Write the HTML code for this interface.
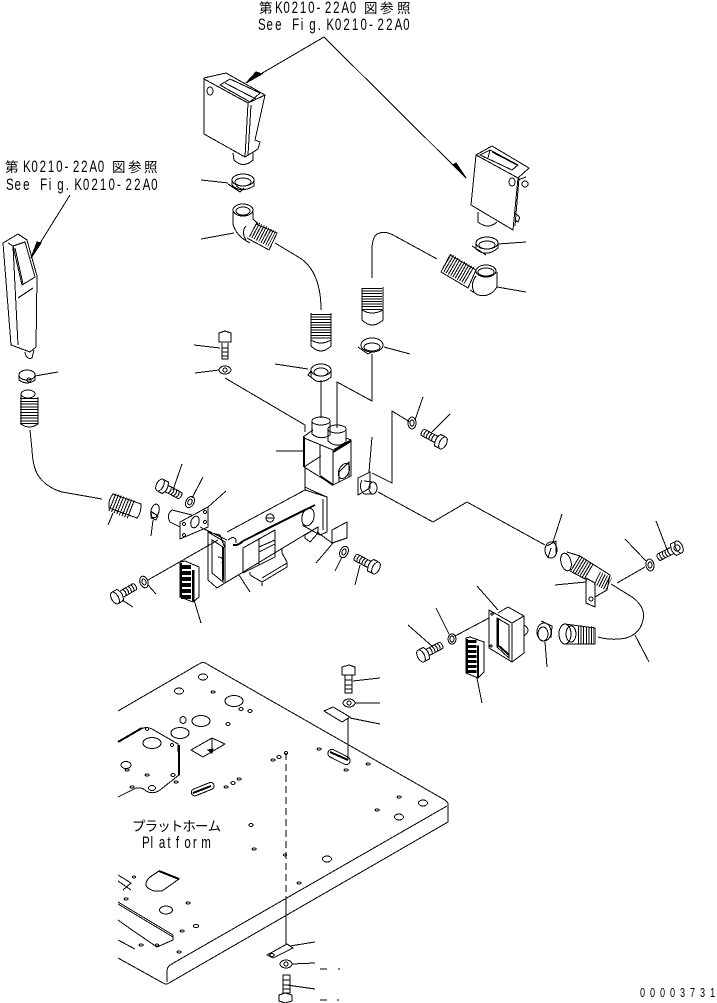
<!DOCTYPE html>
<html><head><meta charset="utf-8"><title>Diagram</title>
<style>
html,body{margin:0;padding:0;background:#fff;width:717px;height:1003px;overflow:hidden}
svg{display:block}
.t{font-family:"Liberation Sans","Noto Sans CJK JP",sans-serif;font-size:16.500px;fill:#000;stroke:none}
.j{font-family:"Liberation Sans","Noto Sans CJK JP",sans-serif;font-size:13.500px;fill:#000;stroke:none}
</style></head><body>
<svg width="717" height="1003" viewBox="0 0 717 1003" xmlns="http://www.w3.org/2000/svg">
<defs>
<g id="b"><ellipse cx="0" cy="0" rx="3.500" ry="6.500"/><path d="M0,-6.500H6Q8,-3 8,0Q8,3 6,6.500H0M8,-3.500H23M8,3.500H23M23,-3.500Q25,0 23,3.500M11,-3.500Q13,0 11,3.500M14,-3.500Q16,0 14,3.500M17,-3.500Q19,0 17,3.500M20,-3.500Q22,0 20,3.500"/></g>
</defs>
<rect width="717" height="1003" fill="#fff"/>
<text class="j" x="259" y="13">第</text><text class="t" transform="translate(275,13) scale(.7,1)" x="0 11.9 23.7 35.6 47.4 59.3 71.2 83 94.9 106.7">K0210-22A0</text><text class="j" x="364" y="13">図</text><text class="j" x="380" y="13">参</text><text class="j" x="397" y="13">照</text>
<text class="t" transform="translate(258,30) scale(.7,1)" x="0 12.2 24.4 36.6 48.8 61 73.2 85.4 97.6 109.8 122 134.2 146.4 158.6 170.8 183 195.2 207.4">See Fig.K0210-22A0</text>
<text class="j" x="5" y="172">第</text><text class="t" transform="translate(23,172) scale(.7,1)" x="0 11.9 23.7 35.6 47.4 59.3 71.2 83 94.9 106.7">K0210-22A0</text><text class="j" x="112" y="172">図</text><text class="j" x="128" y="172">参</text><text class="j" x="144" y="172">照</text>
<text class="t" transform="translate(6,190) scale(.7,1)" x="0 12.2 24.4 36.6 48.8 61 73.2 85.4 97.6 109.8 122 134.2 146.4 158.6 170.8 183 195.2 207.4">See Fig.K0210-22A0</text>
<text class="j" x="132 144.600 157.200 169.800 182.400 195 207.600" y="831">プラットホーム</text>
<text class="t" transform="translate(142,848) scale(.7,1)" x="0 12.1 24.2 36.3 48.4 60.5 72.6 84.7">Platform</text>
<text class="t" transform="translate(640,997) scale(.7,1)" style="font-size:13px" x="0 14.3 28.6 42.9 57.2 71.5 85.8 100.1">00003731</text>

<g fill="none" stroke="#000" stroke-width="1" shape-rendering="crispEdges">
<!-- leaders top -->
<path d="M324,37L247,82M324,37L466,178M70,195L32,256"/>
<path fill="#000" d="M262,74L246,83L256,72ZM453,165L466,178L456,163ZM41,243L31,258L37,242Z"/>

<!-- box 1 -->
<path d="M204,78L226,73L265,95L255,140L260,142L258,149L245,157L204,134ZM204,79L248,103L265,95M248,103L245,157M251,105L248,155M220,85L230,79L260,93L250,102ZM225,83L256,99"/>
<ellipse cx="210" cy="91" rx="3" ry="4"/>
<path d="M233,153L234,160Q243,169 253,160V152"/>
<!-- clamp 1 -->
<path d="M201,180L228,183"/>
<ellipse cx="243" cy="180" rx="11" ry="6"/>
<ellipse cx="243" cy="182" rx="8" ry="4"/>
<path d="M232,181V185Q240,194 254,186V180M228,184L240,192L244,188M236,186L243,190"/>
<!-- elbow 1 -->
<ellipse cx="243" cy="210" rx="10" ry="6"/>
<ellipse cx="243" cy="211" rx="7" ry="4"/>
<path d="M233,212V224Q236,236 250,243M253,212V219L258,224M246,226Q241,232 246,240"/>
<path d="M201,239L234,233M275,243L300,258Q321,272 321,310"/>
<line x1="253" y1="229" x2="272" y2="239" stroke-width="17" stroke-dasharray="1 1.6"/>
<path d="M256,224L277,233L269,250L247,238"/>
<!-- lower ripple 1 -->
<line x1="321" y1="314" x2="321" y2="340" stroke-width="20" stroke-dasharray="1 1.6"/>
<path d="M311,313V346Q321,356 331,346V313M311,340Q321,346 331,340"/>
<!-- box 2 -->
<path d="M476,155L492,146L529,168L518,178L513,230L471,205ZM476,155L518,178M480,155L490,150L518,165L512,170ZM490,150L488,158M492,152L517,165M519,178L515,226"/>
<ellipse cx="512" cy="182" rx="3" ry="4"/>
<ellipse cx="525" cy="184" rx="3" ry="3"/>
<path d="M518,180L526,177M478,212V222Q488,230 497,222M515,214Q522,216 518,222L515,220"/>
<!-- clamp 2 -->
<path d="M498,244L526,242"/>
<ellipse cx="487" cy="243" rx="11" ry="6"/>
<ellipse cx="487" cy="245" rx="8" ry="4"/>
<path d="M476,244V249Q486,258 498,248V243M472,246L486,255"/>
<!-- elbow 2 -->
<ellipse cx="486" cy="271" rx="10" ry="6"/>
<ellipse cx="486" cy="272" rx="8" ry="4"/>
<path d="M497,272V287Q490,298 478,295L470,290M476,276Q470,284 474,292M497,287L526,292M437,259L395,236Q385,230 377,234Q372,238 372,250V278"/>
<line x1="446" y1="262" x2="470" y2="276" stroke-width="19" stroke-dasharray="1 1.6"/>
<path d="M450,255L476,270L468,288L441,272Z"/>
<!-- ripple 2 -->
<line x1="372" y1="288" x2="372" y2="310" stroke-width="20" stroke-dasharray="1 1.6"/>
<path d="M362,288V320Q372,330 383,320V287M362,310Q372,316 383,310"/>
<!-- clamp 3/4 -->
<ellipse cx="372" cy="345" rx="11" ry="7"/>
<ellipse cx="372" cy="347" rx="8" ry="4"/>
<path d="M384,347L410,354M358,347L368,354L374,351M372,354V401L337,382V428"/>
<ellipse cx="321" cy="370" rx="10" ry="6"/>
<ellipse cx="321" cy="372" rx="7" ry="4"/>
<path d="M311,371V377M331,371V377Q325,383 316,381L308,375L311,371M275,364L308,369M321,380V418"/>
<!-- bolt + washer -->
<path d="M219,333L225,331L231,333V342H219ZM222,343V359H228V343M222,348H228M222,352H228M222,356H228M194,345L220,348M195,373L219,370M225,378L305,425V432"/>
<ellipse cx="225" cy="370" rx="6" ry="4"/>
<ellipse cx="225" cy="370" rx="2" ry="2"/>
<!-- solenoid -->
<path d="M312,421V434Q321,441 330,435V421M328,428V441Q337,449 346,442V428"/>
<ellipse cx="321" cy="421" rx="9" ry="4"/>
<ellipse cx="337" cy="429" rx="9" ry="4"/>
<path d="M303,437L313,430M304,438L333,450L351,440V476L333,485L304,467M333,450V485M320,445V475M304,467L321,456M346,438L351,440M339,472L349,462V477L339,482Z"/>
<path stroke-width="2" d="M304,437V467M333,452L351,441M320,476L333,485"/>
<ellipse cx="344" cy="471" rx="5" ry="8" transform="rotate(25 344 471)"/>
<path d="M276,451H304M305,467V490"/>
<!-- bracket -->
<path d="M227,532L305,490L327,497V532L320,535L302,525M305,487L311,490L327,497M323,499V530M208,532L225,542L225,583L217,588L208,580ZM208,532L220,535L225,548M212,540L223,547V582L212,573ZM225,583L301,537M301,537L318,527"/>
<path stroke-width="2" d="M233,545Q238,546 243,541L315,505M223,547V580"/>
<ellipse cx="270" cy="518" rx="4" ry="4"/>
<path d="M266,518H274"/>
<ellipse cx="308" cy="517" rx="6" ry="9" transform="rotate(15 308 517)"/>
<path d="M243,548L275,530V557L243,573ZM259,538V565M259,547L275,540M259,552L275,544M250,575L262,582L287,567V562L282,553M250,572L250,575M262,578L287,563M262,582V586M282,553V548"/>
<path d="M305,535L318,527V533L310,542L305,538ZM332,530L347,522V538L332,543ZM317,532L332,543M228,540Q234,535 236,540V543M218,557Q224,557 222,563"/>
<!-- plate left -->
<path d="M180,522L208,507V527L180,539ZM200,527L227,540M226,491L208,507M192,515L172,510Q166,515 170,522L180,527"/>
<ellipse cx="195" cy="522" rx="4" ry="6" transform="rotate(20 195 522)"/>
<circle cx="184" cy="524" r="1.500"/><circle cx="205" cy="512" r="1.500"/><circle cx="205" cy="522" r="1.500"/><circle cx="184" cy="535" r="1.500"/>
<!-- bolts -->
<use href="#b" transform="translate(160,485) rotate(28)"/>
<use href="#b" transform="translate(115,598) rotate(-30)"/>
<use href="#b" transform="translate(376,568) rotate(208)"/>
<use href="#b" transform="translate(443,443) rotate(208)"/>
<use href="#b" transform="translate(679,547) rotate(153)"/>
<use href="#b" transform="translate(421,656) rotate(-28)"/>
<path d="M182,464L173,490M122,600L133,607M355,585L360,565M450,414L432,432M656,521L668,552M408,625L433,647"/>
<ellipse cx="190" cy="502" rx="4" ry="6" transform="rotate(30 190 502)"/>
<ellipse cx="190" cy="502" rx="2" ry="3" transform="rotate(30 190 502)"/>
<path d="M203,477L192,498"/>
<!-- bellow L -->
<path d="M102,499L62,492Q48,488 40,478Q33,470 32,450L30,430"/>
<line x1="112" y1="502" x2="132" y2="510" stroke-width="19" stroke-dasharray="1 1.800"/>
<path d="M113,494L141,504Q141,514 137,518L109,508Q108,500 113,494ZM108,525L113,513"/>
<ellipse cx="155" cy="511" rx="4" ry="7" transform="rotate(15 155 511)"/>
<path d="M151,536L153,520M152,512L158,516L156,520L151,518Z"/>
<!-- left long box -->
<path d="M3,243L18,234L27,240L37,276L36,347L30,352L11,345L3,243ZM8,243L13,246L18,345M13,246L25,242L35,277L22,285ZM15,248L23,284M18,298L33,288M25,352Q26,360 32,358L34,350"/>
<!-- clamp L -->
<ellipse cx="27" cy="375" rx="8" ry="5"/>
<path d="M19,376V380Q27,386 35,380V375M35,376L58,372"/>
<circle cx="29" cy="380" r="2"/>
<!-- bellow upper L -->
<ellipse cx="28" cy="394" rx="7" ry="4"/>
<line x1="29" y1="398" x2="29" y2="424" stroke-width="18" stroke-dasharray="1 1.800"/>
<path d="M21,394V424Q29,430 38,424V397"/>
<!-- lower washer -->
<ellipse cx="144" cy="582" rx="4" ry="6" transform="rotate(-20 144 582)"/>
<ellipse cx="144" cy="582" rx="2" ry="3" transform="rotate(-20 144 582)"/>
<path d="M148,585L156,594M148,580L218,540"/>
<!-- connector L -->
<path d="M180,562L185,561L199,567V597L193,602L180,597ZM194,570V601"/>
<line x1="186" y1="565" x2="186" y2="600" stroke-width="10" stroke-dasharray="4 2"/>
<path stroke-width="2" d="M181,563V597M193,570V601"/>
<path d="M194,600L201,623M239,575L250,592M316,563L333,543"/>
<!-- washer right-of-bracket -->
<ellipse cx="344" cy="552" rx="4" ry="6" transform="rotate(25 344 552)"/>
<ellipse cx="344" cy="552" rx="2" ry="3" transform="rotate(25 344 552)"/>
<path d="M335,571L342,557"/>
<!-- right connector plate -->
<path d="M358,478L370,472V488L358,495ZM372,437L369,472M372,473L392,483V411L410,422"/>
<ellipse cx="373" cy="488" rx="4" ry="6"/>
<path d="M364,481L373,482M364,494L373,494M378,492L433,522L467,502L545,545M362,480Q358,488 364,494"/>
<ellipse cx="412" cy="423" rx="4" ry="6"/>
<ellipse cx="412" cy="423" rx="2" ry="3"/>
<path d="M423,397L415,420"/>
<!-- clamp right -->
<ellipse cx="551" cy="550" rx="6" ry="8"/>
<path d="M562,514L553,542M547,546L556,541L556,553M551,548L548,558"/>
<!-- right elbow -->
<ellipse cx="566" cy="562" rx="5" ry="9" transform="rotate(-15 566 562)"/>
<path d="M567,552L580,556L610,575M570,571L587,580"/>
<line x1="575" y1="563" x2="590" y2="572" stroke-width="17" stroke-dasharray="1 1.600"/>
<line x1="597" y1="578" x2="609" y2="584" stroke-width="14" stroke-dasharray="1 1.600"/>
<path d="M586,578V603L595,607V583L586,578M595,597L607,590L610,575M555,585L586,582"/>
<circle cx="591" cy="599" r="2"/>
<path d="M611,584L632,597Q646,607 643,620Q640,634 626,638Q612,641 598,637M635,635L649,662M617,583L645,567M625,539L646,561"/>
<ellipse cx="650" cy="565" rx="4" ry="6" transform="rotate(-10 650 565)"/>
<ellipse cx="650" cy="565" rx="2" ry="3"/>
<circle cx="677" cy="548" r="3"/>
<!-- lower box -->
<path d="M489,610L512,623L524,616V653L512,662L489,648ZM498,613L508,607L524,616M512,623V662M497,618L509,625V658L497,647ZM524,625Q532,630 524,636"/>
<path stroke-width="2" d="M498,619V647M499,646L509,655"/>
<circle cx="491" cy="646" r="1"/><circle cx="492" cy="614" r="1"/>
<path d="M477,586L498,610M436,608L449,634M455,636L489,618"/>
<ellipse cx="452" cy="639" rx="4" ry="5"/>
<ellipse cx="452" cy="639" rx="2" ry="3"/>
<!-- connector right -->
<path d="M466,638L470,637L484,642V672L478,678L466,673ZM478,645V678"/>
<line x1="472" y1="640" x2="472" y2="675" stroke-width="9" stroke-dasharray="3 2"/>
<path stroke-width="2" d="M467,639V673M478,646V678"/>
<path d="M477,678L482,703"/>
<!-- clamp lower -->
<ellipse cx="544" cy="632" rx="7" ry="9"/>
<ellipse cx="543" cy="634" rx="5" ry="7"/>
<path d="M541,621L552,626L551,638M545,642L547,667"/>
<!-- bellow lower -->
<ellipse cx="565" cy="634" rx="6" ry="10"/>
<ellipse cx="571" cy="634" rx="5" ry="8"/>
<line x1="578" y1="635" x2="594" y2="635" stroke-width="17" stroke-dasharray="1 1.600"/>
<path d="M565,624L595,628V644L565,644"/>

<!-- platform outline -->
<path d="M118,711L199,664Q203,661 207,664L445,800Q449,803 448,806V822L169,983Q166,985 163,983L118,958M447,806L170,965Q167,967 167,972V982"/>
<!-- inner plate -->
<path d="M118,742L141,729Q146,726 152,729L178,744L179,775L160,790Q153,795 146,791Q142,787 136,788L118,797"/>
<path stroke-width="2" d="M179,745V775M142,728L118,742"/>
<!-- rectangle hole -->
<path d="M191,750L212,738L225,744L203,757Z"/>
<path fill="#000" d="M208,750L213,749L212,753Z"/>
<path d="M212,738V752"/>
<!-- slots -->
<rect x="191" y="786" width="24" height="7" rx="3.500" transform="rotate(-22 202 790)"/>
<path stroke-width="2" d="M193,793L211,786"/>
<rect x="327" y="753" width="24" height="8" rx="4" transform="rotate(27 339 757)"/>
<path stroke-width="2" d="M330,752L348,760"/>
<!-- large cutout -->
<path d="M159,871L179,879L162,891H154Q146,888 146,885Q146,880 150,877Z"/>
<path stroke-width="2" d="M159,871L179,879"/>
<path d="M118,875L131,883L123,890M118,881L131,890M118,902L173,935M118,904L173,937M173,935V940L157,947L132,930L118,920"/>
<path d="M118,940L135,949"/>
<!-- platform holes -->
<ellipse cx="203" cy="677" rx="4.500" ry="3"/><ellipse cx="179" cy="691" rx="4.500" ry="3"/><ellipse cx="213" cy="692" rx="2" ry="1"/>
<ellipse cx="234" cy="701" rx="9" ry="5.500"/><ellipse cx="241" cy="709" rx="2" ry="1.500"/><ellipse cx="250" cy="711" rx="2" ry="1.500"/>
<ellipse cx="201" cy="721" rx="9" ry="5.500"/><ellipse cx="183" cy="720" rx="3" ry="3.500"/><ellipse cx="228" cy="724" rx="2" ry="1.500"/>
<ellipse cx="180" cy="733" rx="9" ry="5.500"/><ellipse cx="152" cy="743" rx="9" ry="5.500"/><ellipse cx="147" cy="729" rx="1.500" ry="1.500"/><ellipse cx="172" cy="745" rx="1.500" ry="1.500"/>
<ellipse cx="126" cy="765" rx="5" ry="3.500"/><ellipse cx="127" cy="770" rx="2" ry="1"/><ellipse cx="147" cy="775" rx="2" ry="1"/><ellipse cx="173" cy="775" rx="2" ry="1.500"/><ellipse cx="176" cy="782" rx="2" ry="1"/><ellipse cx="132" cy="787" rx="2" ry="1"/><ellipse cx="152" cy="788" rx="3.500" ry="2.500"/>
<ellipse cx="226" cy="787" rx="2" ry="1"/><ellipse cx="233" cy="783" rx="2" ry="1.500"/><ellipse cx="239" cy="779" rx="2" ry="1"/>
<ellipse cx="251" cy="825" rx="2" ry="1.500"/><ellipse cx="254" cy="849" rx="2" ry="1"/><ellipse cx="273" cy="760" rx="2" ry="1"/><ellipse cx="279" cy="757" rx="2" ry="1.500"/><ellipse cx="286" cy="753" rx="1.500" ry="1.500"/><ellipse cx="285" cy="855" rx="1.500" ry="1"/>
<ellipse cx="319" cy="749" rx="2" ry="1"/><ellipse cx="346" cy="770" rx="2" ry="1"/><ellipse cx="368" cy="764" rx="2" ry="1"/><ellipse cx="399" cy="797" rx="2" ry="1"/><ellipse cx="377" cy="810" rx="2" ry="1"/>
<ellipse cx="423" cy="803" rx="4.500" ry="3"/><ellipse cx="399" cy="817" rx="4.500" ry="3"/><ellipse cx="327" cy="859" rx="4.500" ry="3"/><ellipse cx="299" cy="883" rx="2" ry="1"/>
<ellipse cx="134" cy="877" rx="1.500" ry="1"/><ellipse cx="126" cy="899" rx="2" ry="1"/><ellipse cx="166" cy="910" rx="6.500" ry="4"/><ellipse cx="188" cy="903" rx="2" ry="1"/><ellipse cx="196" cy="926" rx="2.500" ry="1.500"/><ellipse cx="182" cy="931" rx="2" ry="1"/><ellipse cx="141" cy="945" rx="2" ry="1"/><ellipse cx="179" cy="952" rx="2" ry="1"/><ellipse cx="157" cy="945" rx="1.500" ry="1"/>
<!-- top fasteners on platform -->
<path d="M342,667L349,665L355,667V675H342ZM345,675V693H352V675M345,680H352M345,685H352M345,689H352M353,681L380,678M355,703H380"/>
<ellipse cx="349" cy="703" rx="6" ry="4"/><ellipse cx="349" cy="703" rx="2" ry="2"/>
<path d="M324,711L333,707L350,717L342,722ZM350,718L380,724M348,718V760"/>
<path stroke-dasharray="7 4" d="M286,753V897"/>
<path d="M286,897V945M267,955L287,944L293,948L273,958ZM290,946L315,942M292,964L315,963M287,985L315,989"/>
<ellipse cx="286" cy="964" rx="6" ry="4"/><ellipse cx="286" cy="964" rx="2" ry="2"/>
<ellipse cx="272" cy="955" rx="2" ry="1.500"/>
<path d="M283,975H290V993H283ZM283,980H290M283,985H290M283,989H290M279,995L285,993L292,995V1001L285,1003L279,1001Z"/>
<path d="M320,969H327M338,969H340M320,1000H327M337,1000H339"/>
</g>
</svg>
</body></html>
